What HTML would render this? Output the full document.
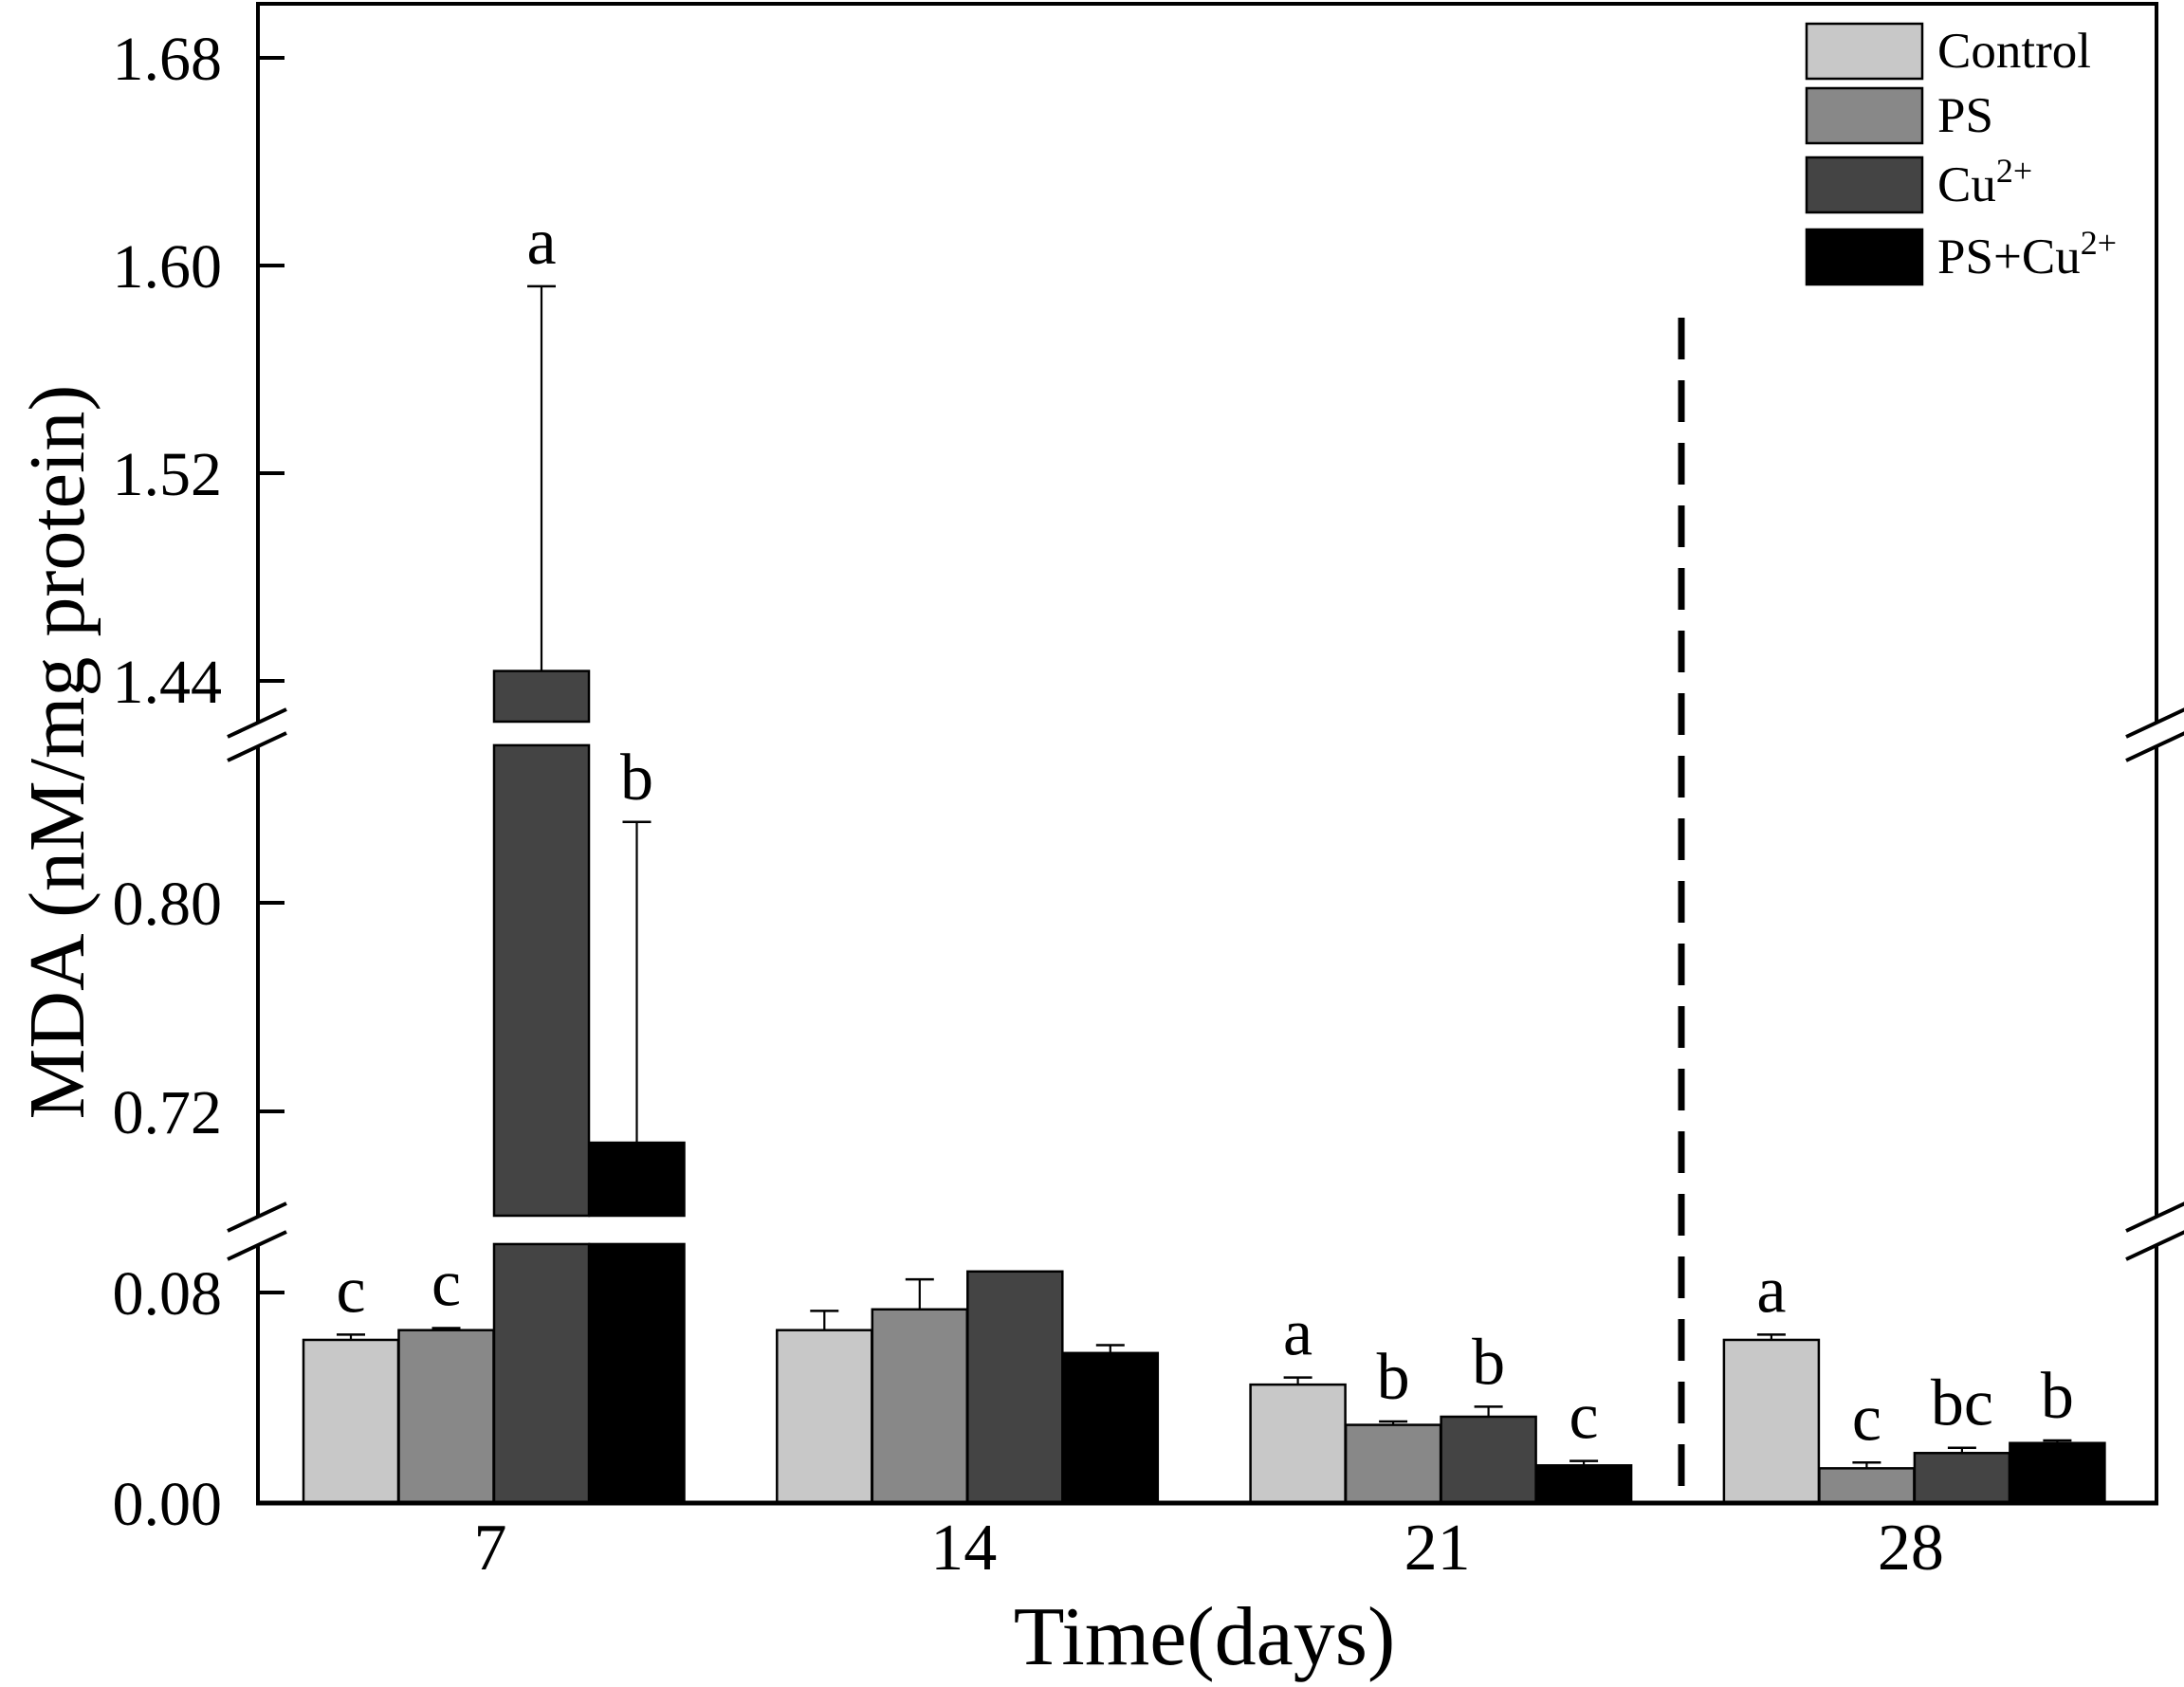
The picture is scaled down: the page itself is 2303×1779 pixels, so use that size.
<!DOCTYPE html>
<html><head><meta charset="utf-8"><style>
html,body{margin:0;padding:0;background:#fff;}
svg{display:block;font-family:"Liberation Serif",serif;}
</style></head><body>
<svg id="chart" width="2303" height="1779" viewBox="0 0 2303 1779" xmlns="http://www.w3.org/2000/svg">
<rect x="0" y="0" width="2303" height="1779" fill="#fff"/>
<g id="plot"></g>
</svg>
<script>
const categories = ["7","14","21","28"];
const seriesNames = ["Control","PS","Cu2+","PS+Cu2+"];
const controlVals = [0.062, 0.0657, 0.045, 0.062];
const psVals = [0.0657, 0.0736, 0.0297, 0.0132];
const cuVals = [1.4438, 0.088, 0.0328, 0.019];
const pscuVals = [0.708, 0.057, 0.0143, 0.0228];
const controlErr = [0.064, 0.073, 0.0477, 0.064];
const psErr = [0.0665, 0.085, 0.031, 0.0154];
const cuErr = [1.592, 0.088, 0.0366, 0.021];
const pscuErr = [0.831, 0.060, 0.016, 0.0238];
const controlLetters = ["c","","a","a"];
const psLetters = ["c","","b","c"];
const cuLetters = ["a","","b","bc"];
const pscuLetters = ["b","","c","b"];
const yTickLabels = ["0.00","0.08","0.72","0.80","1.44","1.52","1.60","1.68"];
const yTickValues = [0, 0.08, 0.72, 0.80, 1.44, 1.52, 1.60, 1.68];

const NS="http://www.w3.org/2000/svg";
const plot=document.getElementById('plot');
function mk(tag,attrs,parent){const e=document.createElementNS(NS,tag);for(const k in attrs)e.setAttribute(k,attrs[k]);(parent||plot).appendChild(e);return e;}

const segs=[
 {lo:0, hi:0.0984, yb:1585, yt:1312, y0:1585, v0:0, k:2775},
 {lo:0.68, hi:0.8604, yb:1282, yt:786, y0:1172, v0:0.72, k:2750},
 {lo:1.4243, hi:1.7008, yb:761, yt:4, y0:718, v0:1.44, k:2737.5}
];
function segOf(v){for(let i=segs.length-1;i>=0;i--){if(v>=segs[i].lo)return segs[i];}return segs[0];}
function yScale(v){const s=segOf(v);return s.y0-(v-s.v0)*s.k;}
const L=272,R=2274,T=4,B=1585;
const barW=100;
function xScale(gi,si){return 320+gi*499.3+si*100.5;}

const fills=["#c8c8c8","#888888","#444444","#000000"];
const vals=[controlVals,psVals,cuVals,pscuVals];
const errs=[controlErr,psErr,cuErr,pscuErr];
const letters=[controlLetters,psLetters,cuLetters,pscuLetters];

for(let si=0;si<4;si++){
 for(let gi=0;gi<categories.length;gi++){
  const v=vals[si][gi];const x=xScale(gi,si);
  const g=mk('g',{});
  
  
  segs.forEach(s=>{
   if(v>s.lo){
    const top=yScale(Math.min(v,s.hi));
    mk('rect',{x:x,y:top,width:barW,height:s.yb-top,fill:fills[si],stroke:'#000','stroke-width':2.5},g);
   }
  });
  const e=errs[si][gi];
  if(e>v){
   const eb=mk('g',{});
   
   
   const cx=x+barW/2, y1=yScale(v), y2=yScale(e);
   mk('line',{x1:cx,y1:y1,x2:cx,y2:y2,stroke:'#000','stroke-width':2.2},eb);
   mk('line',{x1:cx-15,y1:y2,x2:cx+15,y2:y2,stroke:'#000','stroke-width':2.5},eb);
  }
  const lt=letters[si][gi];
  if(lt){
   const t=mk('text',{x:x+barW/2,y:yScale(Math.max(e,v))-24,'text-anchor':'middle','font-size':70,fill:'#000'});
   t.textContent=lt;
   
   
  }
 }
}

const ax=mk('g',{});


mk('line',{x1:L-2,y1:B,x2:R+2,y2:B,stroke:'#000','stroke-width':5},ax);
mk('line',{x1:L-2,y1:T,x2:R+2,y2:T,stroke:'#000','stroke-width':4},ax);
segs.forEach(s=>{
 mk('line',{x1:L,y1:s.yb+(s===segs[0]?2:0),x2:L,y2:s.yt-(s===segs[2]?2:0),stroke:'#000','stroke-width':4},ax);
 mk('line',{x1:R,y1:s.yb+(s===segs[0]?2:0),x2:R,y2:s.yt-(s===segs[2]?2:0),stroke:'#000','stroke-width':4},ax);
});
[[761,786],[1282,1312]].forEach(p=>{
 [L,R].forEach(xx=>{
  const bk=mk('g',{});
  
  
  mk('line',{x1:xx-32,y1:p[0]+16,x2:xx+30,y2:p[0]-13,stroke:'#000','stroke-width':4},bk);
  mk('line',{x1:xx-32,y1:p[1]+16,x2:xx+30,y2:p[1]-13,stroke:'#000','stroke-width':4},bk);
 });
});
for(let i=0;i<yTickValues.length;i++){
 const y=yScale(yTickValues[i]);
 mk('line',{x1:L,y1:y,x2:L+28,y2:y,stroke:'#000','stroke-width':4},ax);
 const t=mk('text',{x:234,y:y+23,'text-anchor':'end','font-size':66,fill:'#000'});
 t.textContent=yTickLabels[i];
 
 
}
for(let gi=0;gi<categories.length;gi++){
 const cx=xScale(gi,0)+2*100.5;
 const t=mk('text',{x:cx-4,y:1655,'text-anchor':'middle','font-size':70,fill:'#000'});
 t.textContent=categories[gi];
 
 
}
const dl=mk('line',{x1:1773,y1:335,x2:1773,y2:B,stroke:'#000','stroke-width':7,'stroke-dasharray':'44 22'});



const xt=mk('text',{x:1270,y:1755,'text-anchor':'middle','font-size':88,fill:'#000'});
xt.textContent='Time(days)';


const yt=mk('text',{x:0,y:0,'text-anchor':'middle','font-size':84,fill:'#000',transform:'translate(88,793) rotate(-90)'});
yt.textContent='MDA (nM/mg protein)';



const legY=[25,93,166,242];
const leg=mk('g',{});


for(let si=0;si<4;si++){
 const en=mk('g',{},leg);
 
 
 mk('rect',{x:1905,y:legY[si],width:122,height:58,fill:fills[si],stroke:'#000','stroke-width':2.5},en);
 const t=mk('text',{x:2043,y:legY[si]+46,'font-size':53,fill:'#000'},en);
 if(si<2){t.textContent=seriesNames[si];}
 else{
  const base=si===2?'Cu':'PS+Cu';
  t.appendChild(document.createTextNode(base));
  const sp=document.createElementNS(NS,'tspan');
  sp.setAttribute('dy','-20');sp.setAttribute('font-size','36');
  sp.textContent='2+';
  t.appendChild(sp);
 }
}
</script>
</body></html>
